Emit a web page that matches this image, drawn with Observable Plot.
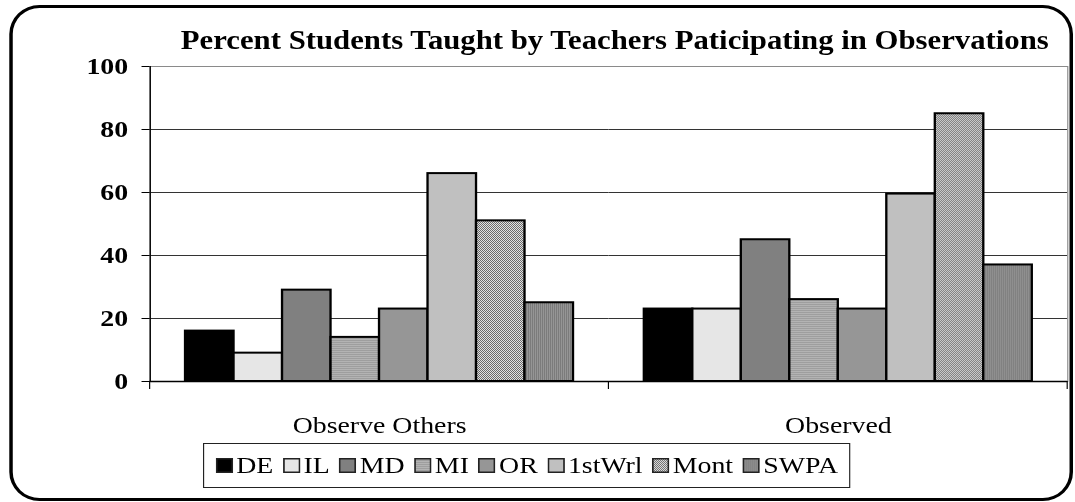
<!DOCTYPE html>
<html><head><meta charset="utf-8">
<script src="https://cdn.jsdelivr.net/npm/d3@7"></script>
<script src="https://cdn.jsdelivr.net/npm/@observablehq/plot@0.6"></script>
<style>
html,body{margin:0;padding:0;background:#fff;}
#page{position:relative;width:927px;height:502px;transform:scaleX(1.16);transform-origin:0 0;font-family:"Liberation Serif","Times New Roman",serif;}
#border{position:absolute;left:8px;top:5px;width:917px;height:496px;box-sizing:border-box;border:3px solid #000;border-radius:26px/29px;pointer-events:none;}
#title{position:absolute;left:0;top:27px;width:1060px;text-align:center;font-size:26.5px;line-height:26px;font-weight:bold;color:#000;white-space:nowrap;}
#chart{position:absolute;left:0;top:0;}
#legend{position:absolute;left:175px;top:443px;width:558px;height:45px;box-sizing:border-box;border:1px solid #222;display:flex;align-items:center;justify-content:center;font-size:24px;color:#000;background:#fff;}
.item{display:flex;align-items:center;margin:0 4px;white-space:nowrap;}
.item svg{margin-right:3px;}
</style></head>
<body>
<div id="page">
  <div id="chart"></div>
  <div id="border"></div>
  <div id="title">Percent Students Taught by Teachers Paticipating in Observations</div>
  <div id="legend"></div>
</div>
<script>
const groups = ["Observe Others", "Observed"];
const series = ["DE", "IL", "MD", "MI", "OR", "1stWrl", "Mont", "SWPA"];
const observeOthers = [16, 9, 29, 14, 23, 66, 51, 25];
const observed = [23, 23, 45, 26, 23, 59.5, 85, 37];
const yTicks = [0, 20, 40, 60, 80, 100];
const fills = ["#000000", "#e6e6e6", "#808080", "url(#pMI)", "#969696", "#c0c0c0", "url(#pMont)", "url(#pSWPA)"];

const data = [];
series.forEach((s, i) => {
  data.push({group: groups[0], series: s, value: observeOthers[i]});
  data.push({group: groups[1], series: s, value: observed[i]});
});

const plot = Plot.plot({
  width: 927, height: 502,
  marginLeft: 129, marginRight: 7, marginTop: 66, marginBottom: 121,
  style: {fontFamily: "Liberation Serif, Times New Roman, serif", background: "transparent", color: "#000", overflow: "visible"},
  fx: {domain: groups, padding: 0, label: null, round: false},
  x: {domain: series, paddingInner: 0, paddingOuter: 0.73, axis: null, round: false},
  y: {domain: [0, 100], label: null},
  color: {domain: series, range: fills},
  marks: [
    Plot.ruleY(yTicks.filter(d => d > 0 && d < 100), {stroke: "#333", strokeWidth: 1}),
    Plot.frame({facet: "super", stroke: "#8a8a8a"}),
    Plot.barY(data, {fx: "group", x: "series", y: "value", fill: "series", stroke: "#000", strokeWidth: 2}),
    Plot.ruleY([0], {stroke: "#000", strokeWidth: 1.5}),
    Plot.frame({facet: "super", anchor: "left", stroke: "#000", strokeWidth: 1.2}),
    Plot.axisY({ticks: yTicks, tickSize: 7, tickPadding: 12, fontSize: 24, fontWeight: "bold", label: null, tickFormat: d => String(d)}),
    Plot.axisFx({anchor: "bottom", tickSize: 0, tickPadding: 34, fontSize: 24, label: null})
  ]
});

// fill patterns (sized so that one cell is one device pixel after the 1.16 horizontal stretch)
const sx = 1 / 1.16;
const svg = d3.select(plot);
const defs = svg.insert("defs", ":first-child");
const pMI = defs.append("pattern").attr("id", "pMI").attr("patternUnits", "userSpaceOnUse").attr("width", sx).attr("height", 2);
pMI.append("rect").attr("width", sx).attr("height", 2).attr("fill", "#9e9e9e");
pMI.append("rect").attr("y", 1).attr("width", sx).attr("height", 1).attr("fill", "#b3b3b3");
const pMont = defs.append("pattern").attr("id", "pMont").attr("patternUnits", "userSpaceOnUse").attr("width", 2 * sx).attr("height", 2);
pMont.append("rect").attr("width", 2 * sx).attr("height", 2).attr("fill", "#e2e2e2");
pMont.append("rect").attr("width", sx).attr("height", 1).attr("fill", "#6a6a6a");
pMont.append("rect").attr("x", sx).attr("y", 1).attr("width", sx).attr("height", 1).attr("fill", "#6a6a6a");
const pSW = defs.append("pattern").attr("id", "pSWPA").attr("patternUnits", "userSpaceOnUse").attr("width", 2 * sx).attr("height", 1);
pSW.append("rect").attr("width", 2 * sx).attr("height", 1).attr("fill", "#7b7b7b");
pSW.append("rect").attr("x", sx).attr("width", sx).attr("height", 1).attr("fill", "#959595");

// category boundary ticks below the baseline, from the fx scale
const fx = plot.scale("fx"), ys = plot.scale("y");
const y0 = ys.apply(0);
const bounds = groups.map(g => fx.apply(g)).concat([fx.apply(groups[groups.length - 1]) + fx.bandwidth]);
svg.append("g").selectAll("line").data(bounds).join("line")
  .attr("x1", d => d).attr("x2", d => d).attr("y1", y0).attr("y2", y0 + 8)
  .attr("stroke", "#000").attr("stroke-width", 1);

document.getElementById("chart").appendChild(plot);

// legend
const legend = d3.select("#legend");
series.forEach((s, i) => {
  const it = legend.append("div").attr("class", "item");
  const sv = it.append("svg").attr("width", 15).attr("height", 15);
  sv.append("rect").attr("x", 0.75).attr("y", 0.75).attr("width", 13.5).attr("height", 13.5)
    .attr("fill", fills[i]).attr("stroke", "#222").attr("stroke-width", 1.5);
  it.append("span").text(s);
});
</script>
</body></html>
